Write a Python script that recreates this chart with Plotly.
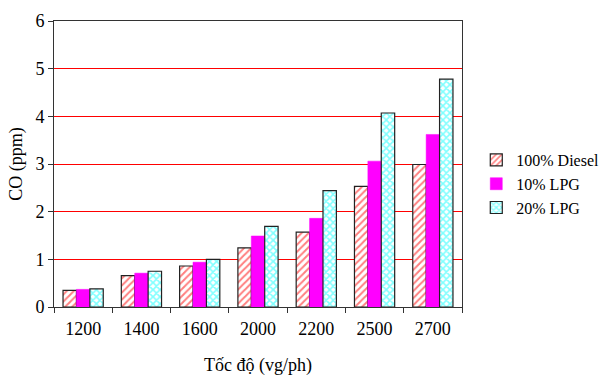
import plotly.graph_objects as go

categories = ["1200", "1400", "1600", "2000", "2200", "2500", "2700"]
diesel = [0.35, 0.66, 0.86, 1.24, 1.57, 2.53, 2.99]
lpg10 = [0.37, 0.71, 0.94, 1.49, 1.86, 3.06, 3.62]
lpg20 = [0.38, 0.75, 1.00, 1.69, 2.44, 4.07, 4.78]
y_ticks = [0, 1, 2, 3, 4, 5, 6]

font = "Times New Roman, Liberation Serif, serif"

fig = go.Figure()
fig.add_trace(go.Bar(
    x=categories, y=diesel, name="100% Diesel",
    marker=dict(color="white", line=dict(color="#222", width=1.2),
                pattern=dict(shape="/", fgcolor="red", bgcolor="white", size=5, solidity=0.4)),
))
fig.add_trace(go.Bar(
    x=categories, y=lpg10, name="10% LPG",
    marker=dict(color="#FF00FF", line=dict(color="#FF00FF", width=0.5)),
))
fig.add_trace(go.Bar(
    x=categories, y=lpg20, name="20% LPG",
    marker=dict(color="white", line=dict(color="#222", width=1.2),
                pattern=dict(shape="x", fgcolor="#00FFFF", bgcolor="white", size=5, solidity=0.55)),
))

fig.update_layout(
    width=608, height=379,
    margin=dict(l=54, r=146, t=21, b=72, autoexpand=False),
    paper_bgcolor="white", plot_bgcolor="white",
    barmode="group", bargap=0.31, bargroupgap=0,
    font=dict(family=font, size=18, color="black"),
    showlegend=True,
    legend=dict(x=1.035, xanchor="left", y=0.43, yanchor="middle",
                font=dict(family=font, size=16), tracegroupgap=0,
                itemwidth=30, bgcolor="rgba(0,0,0,0)"),
    xaxis=dict(
        showline=True, linecolor="#333", linewidth=1, mirror=True,
        ticks="outside", ticklen=5, tickcolor="#333", tickson="boundaries",
        showgrid=False, ticklabelstandoff=5,
        title=dict(text="Tốc độ (vg/ph)", font=dict(family=font, size=18), standoff=20),
        tickfont=dict(family=font, size=18),
    ),
    yaxis=dict(
        range=[0, 6], tickvals=y_ticks,
        showline=True, linecolor="#333", linewidth=1, mirror=True,
        ticks="outside", ticklen=5, tickcolor="#333",
        showgrid=True, gridcolor="red", gridwidth=1,
        zeroline=False,
        title=dict(text="CO (ppm)", font=dict(family=font, size=18), standoff=8),
        tickfont=dict(family=font, size=18),
    ),
)

fig.write_html("out.html")
